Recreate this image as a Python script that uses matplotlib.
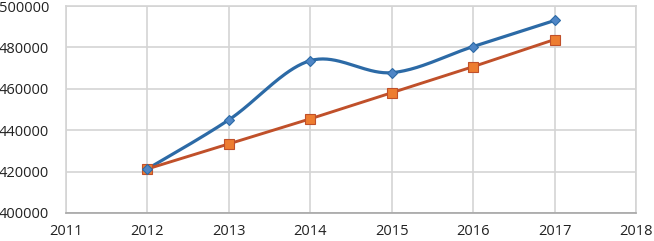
import numpy as np
import matplotlib
matplotlib.use("Agg")
import matplotlib.pyplot as plt

years = [2012, 2013, 2014, 2015, 2016, 2017]
series_actual = [421300, 445000, 473600, 467800, 480400, 493000]
series_trend = [421300, 433400, 445500, 458100, 470700, 483800]
x_ticks = [2011, 2012, 2013, 2014, 2015, 2016, 2017, 2018]
y_ticks = [400000, 420000, 440000, 460000, 480000, 500000]


def excel_smooth(x, y, n=40):
    """Bezier smoothing like Excel's 'smoothed line' (control points at 1/6 of neighbour span)."""
    x = np.asarray(x, float)
    y = np.asarray(y, float)
    xs, ys = [], []
    for i in range(len(x) - 1):
        p0 = np.array([x[max(i - 1, 0)], y[max(i - 1, 0)]])
        p1 = np.array([x[i], y[i]])
        p2 = np.array([x[i + 1], y[i + 1]])
        p3 = np.array([x[min(i + 2, len(x) - 1)], y[min(i + 2, len(x) - 1)]])
        c1 = p1 + (p2 - p0) / 6
        c2 = p2 - (p3 - p1) / 6
        t = np.linspace(0, 1, n)[:, None]
        pts = ((1 - t) ** 3) * p1 + 3 * ((1 - t) ** 2) * t * c1 + 3 * (1 - t) * t ** 2 * c2 + t ** 3 * p2
        xs.extend(pts[:, 0])
        ys.extend(pts[:, 1])
    return np.array(xs), np.array(ys)


plt.rcParams["font.family"] = ["Open Sans", "DejaVu Sans"]

fig = plt.figure(figsize=(6.54, 2.41), dpi=100)
ax = fig.add_axes([66 / 654, 1 - 213 / 241, (636 - 66) / 654, (213 - 6) / 241])

sx, sy = excel_smooth(years, series_actual)
ax.plot(sx, sy, color="#2c6aa6", lw=2.3, zorder=3)
ax.plot(years, series_actual, ls="none", marker="D", ms=5.5,
        mfc="#4f86c6", mec="#2c6aa6", mew=0.8, zorder=4)
ax.plot(years, series_trend, color="#c0502a", lw=2.1, marker="s", ms=7,
        mfc="#ed7d31", mec="#c0502a", mew=0.8, zorder=3)

ax.set_xlim(2011, 2018)
ax.set_ylim(400000, 500000)
ax.set_xticks(x_ticks)
ax.set_yticks(y_ticks)
ax.set_xticklabels([str(v) for v in x_ticks])
ax.set_yticklabels([str(v) for v in y_ticks])
ax.grid(True, color="#d4d4d4", lw=1.2)
ax.set_axisbelow(True)
for side in ("top", "right", "left"):
    ax.spines[side].set_color("#d4d4d4")
    ax.spines[side].set_linewidth(1.2)
ax.spines["bottom"].set_color("#a6a6a6")
ax.spines["bottom"].set_linewidth(1.2)
ax.tick_params(length=0, labelsize=10.5, colors="#222222")
ax.tick_params(axis="x", pad=8)
ax.tick_params(axis="y", pad=12)

fig.savefig("out.png", dpi=100)
